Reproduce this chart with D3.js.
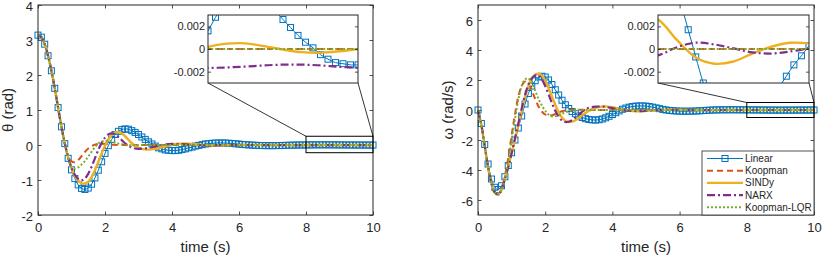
<!DOCTYPE html>
<html>
<head>
<meta charset="utf-8">
<script src="https://cdn.jsdelivr.net/npm/d3@7"></script>
<style>
  body { margin: 0; background: #fff; }
  text { font-family: "Liberation Sans", Arial, Helvetica, sans-serif; fill: #262626; }
</style>
</head>
<body>
<svg id="chart" width="822" height="258"></svg>
<script>
// time grids: Linear is sampled every 0.1 s (one marker per sample), the models are read coarser after 3 s
const tLinear = d3.range(0, 101).map(i => i / 10)
const tModel = d3.range(0, 31).map(i => i / 10).concat(d3.range(1, 29).map(i => 3 + i / 4))

const names = ['Linear', 'Koopman', 'SINDy', 'NARX', 'Koopman-LQR']
const xTicks = [0, 2, 4, 6, 8, 10]
const thetaTicks = [-2, -1, 0, 1, 2, 3, 4]
const omegaTicks = [-6, -4, -2, 0, 2, 4, 6]
const insetTicks = [-0.002, 0, 0.002]

// theta (rad)
const thetaLinear = [
  3.14, 3.08, 2.88, 2.55, 2.12, 1.62, 1.07, 0.52, 0.04, -0.38,
  -0.71, -0.96, -1.14, -1.24, -1.27, -1.23, -1.12, -0.94, -0.72, -0.48,
  -0.24, -0.02, 0.16, 0.30, 0.39, 0.44, 0.46, 0.45, 0.41, 0.36,
  0.30, 0.23, 0.16, 0.09, 0.03, -0.03, -0.08, -0.11, -0.14, -0.15,
  -0.16, -0.16, -0.15, -0.13, -0.11, -0.08, -0.06, -0.03, -0.01, 0.01,
  0.03, 0.04, 0.05, 0.055, 0.058, 0.058, 0.055, 0.05, 0.043, 0.035,
  0.026, 0.017, 0.009, 0.002, -0.004, -0.009, -0.013, -0.016, -0.018, -0.019,
  -0.019, -0.018, -0.016, -0.013, -0.01, -0.007, -0.004, -0.002, 0.0, 0.0008,
  0.0016, 0.0028, 0.0038, 0.0046, 0.0051, 0.0053, 0.0052, 0.0048, 0.0042, 0.0034,
  0.0026, 0.0019, 0.0012, 0.0006, 0.0001, -0.0005, -0.0009, -0.0012, -0.0013, -0.0014,
  -0.0014
]
const thetaKoopman = [
  3.14, 3.08, 2.88, 2.55, 2.12, 1.62, 1.07, 0.52, 0.03, -0.33,
  -0.47, -0.49, -0.43, -0.32, -0.2, -0.1, -0.03, 0.01, 0.03, 0.035,
  0.03, 0.02, 0.01, 0.005, 0, 0, 0, 0, 0, 0, 0,
  0, 0, 0, 0, 0, 0, 0, 0, 0, 0, 0, 0, 0, 0,
  0, 0, 0, 0, 0, 0, 0, 0, 0, 0, 0, 0, 0, 0
]
const thetaSindy = [
  3.14, 3.08, 2.88, 2.55, 2.12, 1.62, 1.07, 0.52, 0.05, -0.35,
  -0.66, -0.88, -1.02, -1.09, -1.1, -1.05, -0.92, -0.72, -0.48, -0.24,
  -0.02, 0.16, 0.29, 0.36, 0.37, 0.33, 0.25, 0.15, 0.05, -0.03, -0.08,
  -0.13, -0.11, -0.05, 0.01, 0.04, 0.035, 0.015, -0.005, -0.013, -0.012,
  -0.005, 0.002, 0.0045, 0.004, 0.0015, -0.0007, -0.0015, -0.0013, -0.0004, 0.00018,
  0.00047, 0.0005, 0.00025, -0.00005, -0.00028, -0.00033, -0.0002, 0.0
]
const thetaNarx = [
  3.14, 3.08, 2.88, 2.55, 2.12, 1.62, 1.07, 0.52, 0.05, -0.35,
  -0.65, -0.85, -0.97, -1.01, -0.96, -0.82, -0.62, -0.38, -0.14, 0.06,
  0.21, 0.3, 0.33, 0.3, 0.23, 0.14, 0.05, -0.02, -0.07, -0.1, -0.11,
  -0.09, -0.04, 0.01, 0.03, 0.025, 0.01, -0.005, -0.01, -0.008, -0.004,
  -0.002, -0.0012, -0.001, -0.0012, -0.0016, -0.0019, -0.0021, -0.002, -0.0018, -0.00168,
  -0.00163, -0.00155, -0.00145, -0.00138, -0.00138, -0.00145, -0.00157, -0.00165
]
const thetaLqr = [
  3.14, 3.08, 2.88, 2.55, 2.12, 1.62, 1.07, 0.52, 0.04, -0.38,
  -0.62, -0.67, -0.64, -0.56, -0.46, -0.33, -0.19, -0.06, 0.04, 0.1,
  0.12, 0.12, 0.1, 0.07, 0.04, 0.02, 0.0, -0.01, -0.01, -0.01, -0.005,
  0, 0, 0, 0, 0, 0, 0, 0, 0, 0, 0, 0, 0, 0,
  0, 0, 0, 0, 0, 0, 0, 0, 0, 0, 0, 0, 0, 0
]

// omega (rad/s)
const omegaLinear = [
  0, -0.9, -2.3, -3.6, -4.6, -5.15, -5.3, -5.05, -4.45, -3.7,
  -2.85, -2.0, -1.2, -0.4, 0.4, 1.1, 1.6, 1.95, 2.2, 2.25,
  2.2, 2.0, 1.7, 1.35, 1.0, 0.65, 0.35, 0.1, -0.1, -0.25,
  -0.4, -0.5, -0.58, -0.63, -0.66, -0.67, -0.65, -0.6, -0.52, -0.42,
  -0.3, -0.18, -0.06, 0.05, 0.13, 0.19, 0.23, 0.26, 0.27, 0.27,
  0.26, 0.23, 0.19, 0.14, 0.09, 0.04, 0.0, -0.03, -0.05, -0.065,
  -0.075, -0.08, -0.082, -0.08, -0.075, -0.065, -0.052, -0.038, -0.024, -0.011,
  0.0, 0.006, 0.01, 0.013, 0.014, 0.015, 0.015, 0.014, 0.013, 0.0115,
  0.0098, 0.0083, 0.0064, 0.0041, 0.0017, -0.0007, -0.003, -0.0048, -0.0061, -0.0069,
  -0.0073, -0.0073, -0.0069, -0.0062, -0.0054, -0.0044, -0.0034, -0.0024, -0.0014, -0.0006,
  0.0003
]
const omegaKoopman = [
  0, -1.0, -2.4, -3.8, -4.9, -5.5, -5.6, -5.3, -4.4, -3.2,
  -1.7, -0.3, 0.9, 1.6, 1.9, 1.75, 1.3, 0.75, 0.25, -0.1,
  -0.3, -0.38, -0.35, -0.26, -0.16, -0.08, -0.03, 0, 0.01, 0.01, 0.01,
  0, 0, 0, 0, 0, 0, 0, 0, 0, 0, 0, 0, 0, 0,
  0, 0, 0, 0, 0, 0, 0, 0, 0, 0, 0, 0, 0, 0
]
const omegaSindy = [
  0, -1.0, -2.4, -3.8, -4.9, -5.5, -5.6, -5.3, -4.6, -3.8,
  -2.9, -2.0, -1.0, -0.1, 0.85, 1.6, 2.1, 2.35, 2.42, 2.3,
  1.95, 1.45, 0.9, 0.35, -0.15, -0.5, -0.72, -0.8, -0.78, -0.68, -0.52,
  -0.12, 0.15, 0.24, 0.18, 0.05, -0.05, -0.08, -0.06, -0.02, 0.01,
  0.025, 0.02, 0.01, -0.002, -0.008, -0.008, -0.004, 0.0008, 0.003, 0.0026,
  0.0008, -0.00075, -0.0013, -0.0011, -0.0004, 0.0002, 0.00055, 0.0005
]
const omegaNarx = [
  0, -1.0, -2.4, -3.8, -4.9, -5.5, -5.65, -5.3, -4.6, -3.8,
  -2.9, -1.9, -0.9, 0.1, 1.0, 1.7, 2.1, 2.3, 2.3, 2.05,
  1.6, 1.05, 0.45, -0.05, -0.45, -0.7, -0.8, -0.78, -0.68, -0.5, -0.3,
  0.1, 0.22, 0.22, 0.12, 0.02, -0.05, -0.07, -0.05, -0.02, 0.0,
  0.01, 0.01, 0.004, 0.0, -0.002, -0.002, 0.0, 0.0003, -0.0007, -0.00056,
  0.00015, 0.00056, 0.0004, 0.00005, -0.0003, -0.0004, -0.00022, 0.00003
]
const omegaLqr = [
  0, -1.0, -2.4, -3.8, -4.9, -5.5, -5.65, -5.35, -4.6, -3.4,
  -2.0, -0.6, 0.7, 1.6, 2.05, 2.1, 1.8, 1.3, 0.75, 0.3,
  -0.05, -0.3, -0.42, -0.42, -0.35, -0.25, -0.15, -0.08, -0.03, 0, 0.02,
  0.01, 0, 0, 0, 0, 0, 0, 0, 0, 0, 0, 0, 0, 0,
  0, 0, 0, 0, 0, 0, 0, 0, 0, 0, 0, 0, 0, 0
]

const styles = {
  Linear: { color: '#0072BD', width: 1, dash: null },
  Koopman: { color: '#D95319', width: 2, dash: '6,4' },
  SINDy: { color: '#EDB120', width: 2.4, dash: null },
  NARX: { color: '#7E2F8E', width: 2.2, dash: '8,3,2,3' },
  'Koopman-LQR': { color: '#77AC30', width: 2, dash: '2,2' },
}

const zip = (ts, vs) => ts.map((t, i) => [t, vs[i]])

const thetaSeries = [
  zip(tLinear, thetaLinear), zip(tModel, thetaKoopman), zip(tModel, thetaSindy),
  zip(tModel, thetaNarx), zip(tModel, thetaLqr),
]
const omegaSeries = [
  zip(tLinear, omegaLinear), zip(tModel, omegaKoopman), zip(tModel, omegaSindy),
  zip(tModel, omegaNarx), zip(tModel, omegaLqr),
]

const svg = d3.select('#chart')
const plotTop = 5
const plotBottom = 215
const fmt = d => String(d)

function drawLines(g, series, x, y, clipId) {
  const line = d3.line().curve(d3.curveCatmullRom.alpha(0.5)).x(d => x(d[0])).y(d => y(d[1]))
  const lg = g.append('g').attr('clip-path', `url(#${clipId})`)
  series.forEach((data, i) => {
    const st = styles[names[i]]
    lg.append('path')
      .datum(data)
      .attr('fill', 'none')
      .attr('stroke', st.color)
      .attr('stroke-width', st.width)
      .attr('stroke-dasharray', st.dash)
      .attr('d', line)
    if (i === 0) {
      lg.selectAll(null)
        .data(data)
        .enter()
        .append('rect')
        .attr('x', d => x(d[0]) - 3)
        .attr('y', d => y(d[1]) - 3)
        .attr('width', 6)
        .attr('height', 6)
        .attr('fill', 'none')
        .attr('stroke', st.color)
        .attr('stroke-width', 1)
    }
  })
}

function panel(opt) {
  const g = svg.append('g')
  const x = d3.scaleLinear().domain([0, 10]).range([opt.left, opt.right])
  const y = d3.scaleLinear().domain(opt.yDomain).range([plotBottom, plotTop])

  const clipId = opt.id + '-clip'
  svg.append('clipPath').attr('id', clipId)
    .append('rect').attr('x', opt.left - 4).attr('y', plotTop)
    .attr('width', opt.right - opt.left + 8).attr('height', plotBottom - plotTop)

  // axes, ticks pointing inside like MATLAB
  const ax = a => a.tickSizeInner(-3.5).tickSizeOuter(0)
  const gx = g.append('g').attr('transform', `translate(0,${plotBottom})`)
    .call(ax(d3.axisBottom(x).tickValues(xTicks).tickFormat(fmt)).tickPadding(8))
  const gxt = g.append('g').attr('transform', `translate(0,${plotTop})`)
    .call(ax(d3.axisTop(x).tickValues(xTicks).tickFormat('')))
  const gy = g.append('g').attr('transform', `translate(${opt.left},0)`)
    .call(ax(d3.axisLeft(y).tickValues(opt.yTicks).tickFormat(fmt)).tickPadding(5))
  const gyr = g.append('g').attr('transform', `translate(${opt.right},0)`)
    .call(ax(d3.axisRight(y).tickValues(opt.yTicks).tickFormat('')))
  ;[gx, gxt, gy, gyr].forEach(a => {
    a.select('.domain').remove()
    a.selectAll('line').attr('stroke', '#262626').attr('stroke-width', 0.8)
    a.selectAll('text').attr('font-size', 13).attr('fill', '#262626')
      .attr('font-family', '"Liberation Sans", Arial, sans-serif')
  })
  gy.selectAll('text').attr('dy', '0.4em')

  drawLines(g, opt.series, x, y, clipId)

  g.append('rect')
    .attr('x', opt.left).attr('y', plotTop)
    .attr('width', opt.right - opt.left).attr('height', plotBottom - plotTop)
    .attr('fill', 'none').attr('stroke', '#262626').attr('stroke-width', 1)

  // zoom box and connectors
  const zx0 = x(8), zx1 = x(10)
  const zy0 = y(opt.zoomY[1]), zy1 = y(opt.zoomY[0])
  g.append('rect')
    .attr('x', zx0).attr('y', zy0).attr('width', zx1 - zx0).attr('height', zy1 - zy0)
    .attr('fill', 'none').attr('stroke', '#000').attr('stroke-width', 1)

  const ins = opt.inset
  g.append('line').attr('x1', ins.left).attr('y1', ins.bottom).attr('x2', zx0).attr('y2', zy0)
    .attr('stroke', '#000').attr('stroke-width', 0.8)
  g.append('line').attr('x1', ins.right).attr('y1', ins.bottom).attr('x2', zx1).attr('y2', zy0)
    .attr('stroke', '#000').attr('stroke-width', 0.8)

  // inset
  const ix = d3.scaleLinear().domain([8, 10]).range([ins.left, ins.right])
  const iy = d3.scaleLinear().domain([-0.003, 0.003]).range([ins.bottom, ins.top])
  const ig = g.append('g')
  ig.append('rect')
    .attr('x', ins.left).attr('y', ins.top)
    .attr('width', ins.right - ins.left).attr('height', ins.bottom - ins.top)
    .attr('fill', '#fff')
  const iclip = opt.id + '-iclip'
  svg.append('clipPath').attr('id', iclip)
    .append('rect').attr('x', ins.left).attr('y', ins.top)
    .attr('width', ins.right - ins.left).attr('height', ins.bottom - ins.top)
  drawLines(ig, opt.series, ix, iy, iclip)

  const iyl = ig.append('g').attr('transform', `translate(${ins.left},0)`)
    .call(d3.axisLeft(iy).tickValues(insetTicks).tickFormat(fmt).tickSizeInner(-3).tickSizeOuter(0).tickPadding(3))
  const iyr = ig.append('g').attr('transform', `translate(${ins.right},0)`)
    .call(d3.axisRight(iy).tickValues(insetTicks).tickFormat('').tickSizeInner(-3).tickSizeOuter(0))
  ;[iyl, iyr].forEach(a => {
    a.select('.domain').remove()
    a.selectAll('line').attr('stroke', '#262626').attr('stroke-width', 0.8)
    a.selectAll('text').attr('font-size', 11).attr('fill', '#262626')
      .attr('font-family', '"Liberation Sans", Arial, sans-serif')
  })
  ig.append('rect')
    .attr('x', ins.left).attr('y', ins.top)
    .attr('width', ins.right - ins.left).attr('height', ins.bottom - ins.top)
    .attr('fill', 'none').attr('stroke', '#262626').attr('stroke-width', 1)

  // labels
  g.append('text')
    .attr('x', (opt.left + opt.right) / 2).attr('y', 252)
    .attr('text-anchor', 'middle').attr('font-size', 15)
    .text('time (s)')
  g.append('text')
    .attr('transform', `translate(${opt.yLabelX},${(plotTop + plotBottom) / 2}) rotate(-90)`)
    .attr('text-anchor', 'middle').attr('font-size', 15)
    .text(opt.yLabel)

  return { x, y }
}

panel({
  id: 'theta', left: 38, right: 373, yDomain: [-2, 4], yTicks: thetaTicks,
  series: thetaSeries, zoomY: [-0.22, 0.25], yLabel: 'θ (rad)', yLabelX: 13,
  inset: { left: 208, right: 358, top: 15, bottom: 83 },
})
panel({
  id: 'omega', left: 478, right: 814, yDomain: [-7, 7], yTicks: omegaTicks,
  series: omegaSeries, zoomY: [-0.5, 0.5], yLabel: 'ω (rad/s)', yLabelX: 453,
  inset: { left: 658, right: 809, top: 15, bottom: 83 },
})

// legend
const leg = svg.append('g')
leg.append('rect')
  .attr('x', 702).attr('y', 151).attr('width', 112).attr('height', 64)
  .attr('fill', '#fff').attr('stroke', '#262626').attr('stroke-width', 0.8)
names.forEach((name, i) => {
  const st = styles[name]
  const ly = 158.5 + i * 12.2
  leg.append('line')
    .attr('x1', 707).attr('x2', 743).attr('y1', ly).attr('y2', ly)
    .attr('stroke', st.color).attr('stroke-width', st.width).attr('stroke-dasharray', st.dash)
  if (i === 0) {
    leg.append('rect').attr('x', 722).attr('y', ly - 3).attr('width', 6).attr('height', 6)
      .attr('fill', 'none').attr('stroke', st.color)
  }
  leg.append('text')
    .attr('x', 745).attr('y', ly).attr('dy', '0.35em')
    .attr('font-size', 10)
    .text(name)
})
</script>
</body>
</html>
